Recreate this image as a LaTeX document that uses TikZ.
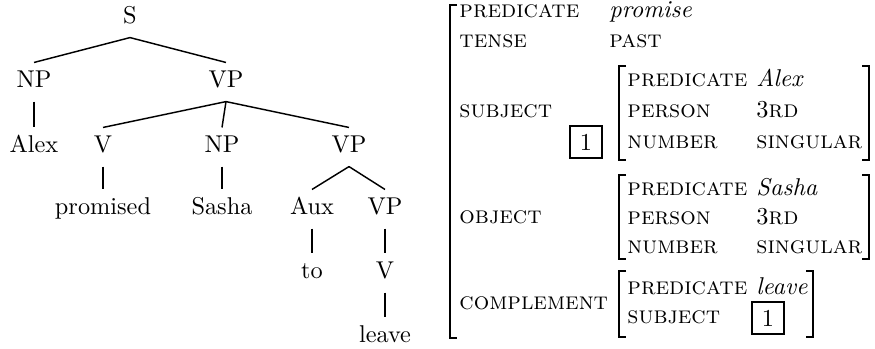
\documentclass[tikz,border=0pt]{standalone}
\begin{document}
\begin{tikzpicture}[x=0.4115pt,y=-0.4115pt,
  tn/.style={inner sep=3pt, text height=6.9pt, text depth=2.8pt, anchor=base},
  edge/.style={line width=0.6pt},
  lbl/.style={anchor=base west, inner sep=0pt},
  brk/.style={line width=0.55pt},
  tagbox/.style={draw, line width=0.6pt, inner sep=0pt, minimum width=13pt, minimum height=13pt}]
\useasboundingbox (0,0) rectangle (875,348);
% ---- tree ----
\node[tn] (S) at (130,23) {S};
\node[tn] (NPa) at (34,87) {NP};
\node[tn] (VPa) at (226,87) {VP};
\node[tn] (Alex) at (34,152) {Alex};
\node[tn] (Va) at (103,152) {V};
\node[tn] (NPb) at (222,152) {NP};
\node[tn] (VPb) at (349,152) {VP};
\node[tn] (prom) at (103,214) {promised};
\node[tn] (Sasha) at (222,214) {Sasha};
\node[tn] (Aux) at (312,214) {Aux};
\node[tn] (VPc) at (385,214) {VP};
\node[tn] (to) at (312,278) {to};
\node[tn] (Vb) at (385,278) {V};
\node[tn] (leave) at (385,342) {leave};
\draw[edge] (S.south) -- (NPa.north);
\draw[edge] (S.south) -- (VPa.north);
\draw[edge] (NPa.south) -- (Alex.north);
\draw[edge] (VPa.south) -- (Va.north);
\draw[edge] (VPa.south) -- (NPb.north);
\draw[edge] (VPa.south) -- (VPb.north);
\draw[edge] (Va.south) -- (prom.north);
\draw[edge] (NPb.south) -- (Sasha.north);
\draw[edge] (VPb.south) -- (Aux.north);
\draw[edge] (VPb.south) -- (VPc.north);
\draw[edge] (Aux.south) -- (to.north);
\draw[edge] (VPc.south) -- (Vb.north);
\draw[edge] (Vb.south) -- (leave.north);
% ---- AVM ----
\draw[brk] (457,5) -- (450,5) -- (450,338) -- (457,338);
\node[lbl] (fpred) at (459,17) {\textsc{predicate}};
\node[lbl] (vpred) at (609,17) {\textit{promise}};
\node[lbl] (ftense) at (459,47) {\textsc{tense}};
\node[lbl] (vtense) at (609,47) {\textsc{past}};
\node[lbl] (fsubj) at (459,117) {\textsc{subject}};
\node[lbl] (fobj) at (459,223) {\textsc{object}};
\node[lbl] (fcomp) at (459,309) {\textsc{complement}};
\node[tagbox] (tagA) at (586,142) {1};
% subject AVM
\draw[brk] (626,66) -- (619,66) -- (619,160) -- (626,160);
\draw[brk] (862,66) -- (869,66) -- (869,160) -- (862,160);
\node[lbl] (sp) at (627,86) {\textsc{predicate}};
\node[lbl] (spv) at (756,86) {\textit{Alex}};
\node[lbl] (sper) at (627,117) {\textsc{person}};
\node[lbl] (sperv) at (756,117) {3\textsc{rd}};
\node[lbl] (snum) at (627,148) {\textsc{number}};
\node[lbl] (snumv) at (756,148) {\textsc{singular}};
% object AVM
\draw[brk] (626,175) -- (619,175) -- (619,259) -- (626,259);
\draw[brk] (862,175) -- (869,175) -- (869,259) -- (862,259);
\node[lbl] (op) at (627,195) {\textsc{predicate}};
\node[lbl] (opv) at (756,195) {\textit{Sasha}};
\node[lbl] (oper) at (627,224) {\textsc{person}};
\node[lbl] (operv) at (756,224) {3\textsc{rd}};
\node[lbl] (onum) at (627,253) {\textsc{number}};
\node[lbl] (onumv) at (756,253) {\textsc{singular}};
% complement AVM
\draw[brk] (626,271) -- (619,271) -- (619,337) -- (626,337);
\draw[brk] (806,271) -- (813,271) -- (813,337) -- (806,337);
\node[lbl] (cp) at (627,294) {\textsc{predicate}};
\node[lbl] (cpv) at (756,294) {\textit{leave}};
\node[lbl] (csub) at (627,323) {\textsc{subject}};
\node[tagbox] (tagB) at (768,318) {1};
\end{tikzpicture}
\end{document}
